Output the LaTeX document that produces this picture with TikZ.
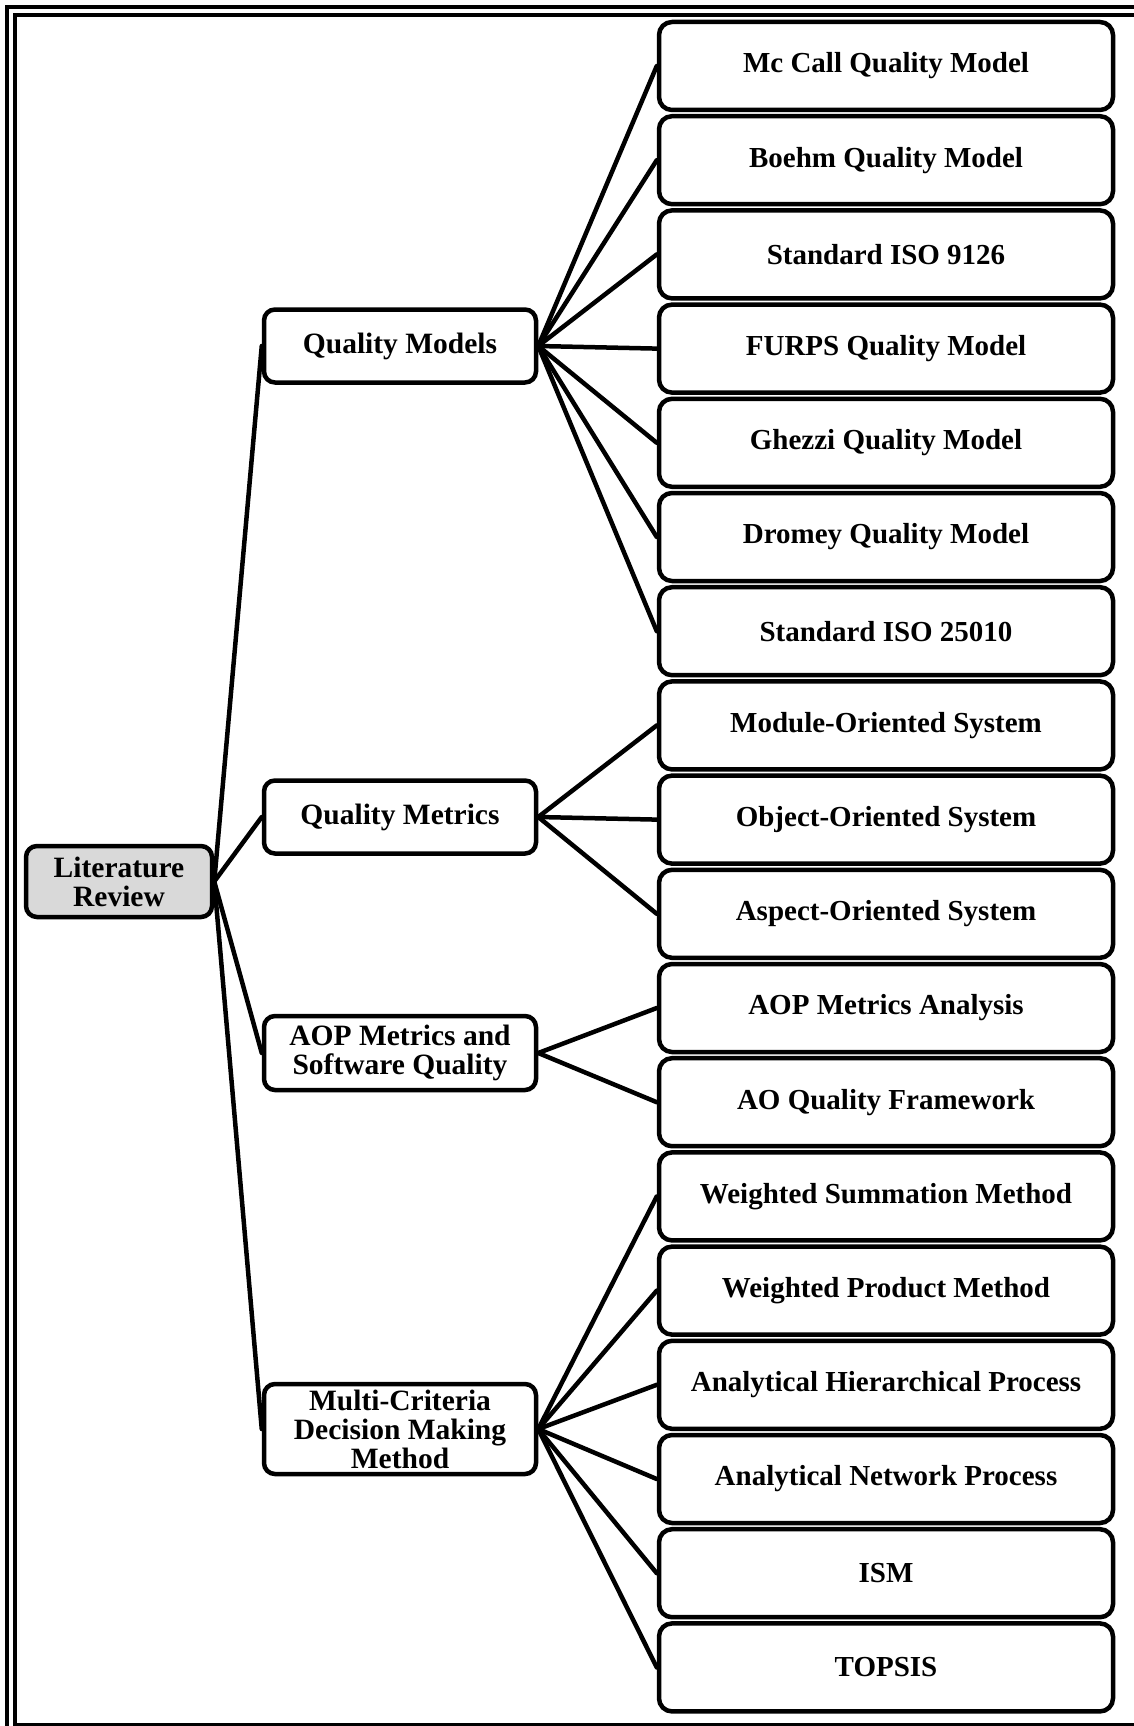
\documentclass[tikz,border=0pt]{standalone}
\usepackage{fontspec}
\setmainfont{Liberation Serif}
\usepackage{tikz}
\usetikzlibrary{positioning}
\tikzset{
    rootbox/.style={
    rectangle,rounded corners=11pt,draw=black,line width=4.5pt,fill=black!15,
    minimum width=186pt,minimum height=71pt,align=center,
    font=\fontsize{29.5}{29}\selectfont\bfseries
    },
    midbox/.style={
    rectangle,rounded corners=11pt,draw=black,line width=4.5pt,fill=white,
    minimum width=272pt,minimum height=73pt,align=center,
    font=\fontsize{29.5}{29}\selectfont\bfseries
    },
    leafbox/.style={
    rectangle,rounded corners=13pt,draw=black,line width=4.5pt,fill=white,
    minimum width=454pt,minimum height=88pt,align=center,
    font=\fontsize{29}{29}\selectfont\bfseries
    },
    connection/.style={
    draw=black,line width=4.5pt,line cap=round
    },
}
\begin{document}
\begin{tikzpicture}[x=1pt,y=-1pt]
  \useasboundingbox (0,0) rectangle (1134,1726);
  \begin{scope}
  \clip (0,0) rectangle (1134,1726);
  % double frame
  \draw[line width=4.5pt] (7,7) rectangle (1150,1740);
  \draw[line width=4.5pt] (15,15) rectangle (1140,1725);
  \end{scope}

  \node[leafbox] (MCC) at (886,66) {Mc Call Quality Model};
  \node[leafbox] (BOEHM) at (886,160.2) {Boehm Quality Model};
  \node[leafbox] (ISO9126) at (886,254.4) {Standard ISO 9126};
  \node[leafbox] (FURPS) at (886,348.6) {FURPS Quality Model};
  \node[leafbox] (GHEZZI) at (886,442.8) {Ghezzi Quality Model};
  \node[leafbox] (DROMEY) at (886,537) {Dromey Quality Model};
  \node[leafbox] (ISO25010) at (886,631.2) {Standard ISO 25010};
  \node[leafbox] (MOS) at (886,725.4) {Module-Oriented System};
  \node[leafbox] (OOS) at (886,819.6) {Object-Oriented System};
  \node[leafbox] (AOS) at (886,913.8) {Aspect-Oriented System};
  \node[leafbox] (AOPMA) at (886,1008) {AOP Metrics Analysis};
  \node[leafbox] (AOQF) at (886,1102.2) {AO Quality Framework};
  \node[leafbox] (WSM) at (886,1196.4) {Weighted Summation Method};
  \node[leafbox] (WPM) at (886,1290.6) {Weighted Product Method};
  \node[leafbox] (AHP) at (886,1384.8) {Analytical Hierarchical Process};
  \node[leafbox] (ANP) at (886,1479) {Analytical Network Process};
  \node[leafbox] (ISM) at (886,1573.2) {ISM};
  \node[leafbox] (TOPSIS) at (886,1667.4) {TOPSIS};

  \node[midbox] (QM) at (400,346) {Quality Models};
  \node[midbox] (QMT) at (400,817) {Quality Metrics};
  \node[midbox,minimum height=74pt] (AOP) at (400,1053) {AOP Metrics and\\Software Quality};
  \node[midbox,minimum height=90pt] (MCDM) at (400,1429) {Multi-Criteria\\Decision Making\\Method};

  \node[rootbox] (LR) at (119,881.5) {Literature\\Review};

  \path[-]
    (LR.east) edge [connection] (QM.west)
              edge [connection] (QMT.west)
              edge [connection] (AOP.west)
              edge [connection] (MCDM.west)
    (QM.east) edge [connection] (MCC.west)
              edge [connection] (BOEHM.west)
              edge [connection] (ISO9126.west)
              edge [connection] (FURPS.west)
              edge [connection] (GHEZZI.west)
              edge [connection] (DROMEY.west)
              edge [connection] (ISO25010.west)
    (QMT.east) edge [connection] (MOS.west)
               edge [connection] (OOS.west)
               edge [connection] (AOS.west)
    (AOP.east) edge [connection] (AOPMA.west)
               edge [connection] (AOQF.west)
    (MCDM.east) edge [connection] (WSM.west)
                edge [connection] (WPM.west)
                edge [connection] (AHP.west)
                edge [connection] (ANP.west)
                edge [connection] (ISM.west)
                edge [connection] (TOPSIS.west);

\end{tikzpicture}
\end{document}
